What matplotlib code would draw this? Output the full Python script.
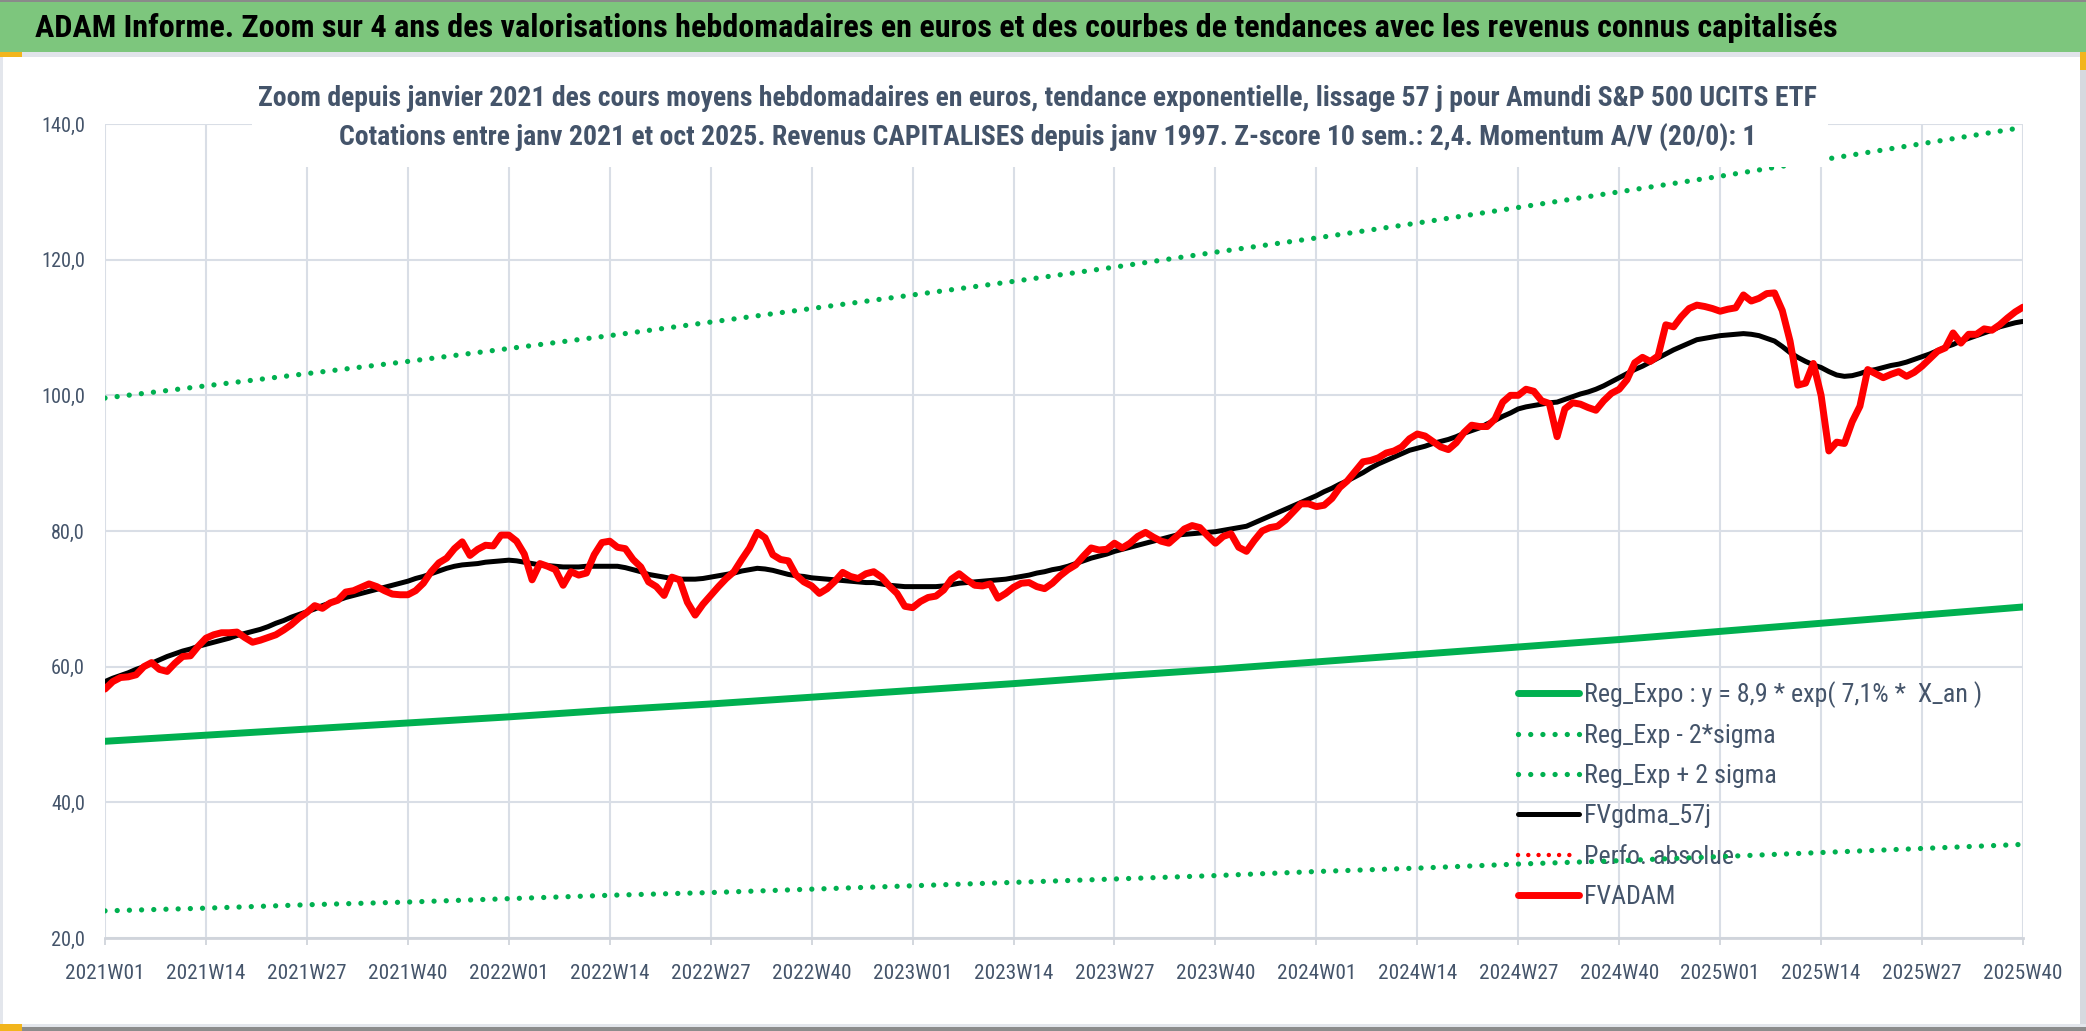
import matplotlib
matplotlib.use("Agg")
import matplotlib.pyplot as plt
import matplotlib.patches as mp
from matplotlib import font_manager as fm
from matplotlib.ticker import FuncFormatter

# police étroite si disponible, sinon Lato (proche de Calibri)
ents = fm.fontManager.ttflist
names = {e.name for e in ents}
FAM, STRETCH = "Lato", "normal"
for n in ("Liberation Sans Narrow", "Arial Narrow", "Roboto Condensed",
          "Open Sans Condensed", "Noto Sans Condensed", "DejaVu Sans Condensed"):
    if n in names:
        FAM = n
        break
else:
    for n in ("Noto Sans", "Open Sans", "Roboto", "DejaVu Sans"):
        if any(e.name == n and "condensed" in str(e.stretch) for e in ents):
            FAM, STRETCH = n, "condensed"
            break
plt.rcParams["font.family"] = [FAM, "DejaVu Sans"]
plt.rcParams["font.stretch"] = STRETCH

SLATE = "#44546A"
GREEN = "#00B050"
GRID = "#D9DEE6"
W, H = 2086, 1031

# catégories hebdomadaires 2021W01 .. 2025W40
weeks = ([f"{y}W{w:02d}" for y in (2021, 2022, 2023, 2024) for w in range(1, 53)]
         + [f"2025W{w:02d}" for w in range(1, 41)])

# FVADAM (cours moyen hebdo, euros)
fvadam = [
    56.7, 57.8, 58.4, 58.5, 58.8, 60.0, 60.6, 59.6, 59.3, 60.5,
    61.5, 61.6, 63.0, 64.2, 64.7, 65.0, 65.0, 65.1, 64.3, 63.6,
    63.9, 64.3, 64.7, 65.4, 66.2, 67.2, 68.0, 69.0, 68.6, 69.4,
    69.8, 71.0, 71.2, 71.7, 72.2, 71.8, 71.2, 70.7, 70.6, 70.6,
    71.2, 72.3, 74.0, 75.3, 76.0, 77.4, 78.4, 76.4, 77.3, 77.9,
    77.8, 79.4, 79.4, 78.5, 76.6, 72.8, 75.2, 74.8, 74.3, 72.0,
    74.0, 73.5, 73.8, 76.5, 78.3, 78.5, 77.6, 77.4, 75.8, 74.7,
    72.5, 71.8, 70.5, 73.2, 72.8, 69.5, 67.6, 69.2, 70.5, 71.8,
    73.0, 74.0, 75.8, 77.5, 79.8, 79.0, 76.5, 75.8, 75.6, 73.5,
    72.5, 71.9, 70.8, 71.5, 72.6, 73.9, 73.3, 73.0, 73.7, 74.0,
    73.2, 71.9, 70.8, 68.9, 68.7, 69.6, 70.2, 70.4, 71.3, 72.9,
    73.7, 72.8, 72.0, 71.9, 72.2, 70.1, 70.8, 71.7, 72.3, 72.4,
    71.8, 71.5, 72.3, 73.4, 74.3, 75.0, 76.3, 77.5, 77.2, 77.3,
    78.2, 77.5, 78.2, 79.2, 79.8, 79.1, 78.5, 78.2, 79.2, 80.3,
    80.8, 80.5, 79.3, 78.2, 79.2, 79.6, 77.6, 77.0, 78.6, 80.0,
    80.5, 80.7, 81.6, 82.8, 84.0, 84.0, 83.6, 83.8, 84.8, 86.4,
    87.4, 88.8, 90.2, 90.4, 90.8, 91.5, 91.8, 92.4, 93.6, 94.3,
    94.0, 93.2, 92.4, 92.0, 93.0, 94.5, 95.6, 95.4, 95.4, 96.5,
    99.0, 100.0, 100.0, 100.9, 100.6, 99.2, 98.8, 93.9, 98.0, 98.9,
    98.7, 98.2, 97.8, 99.2, 100.3, 100.9, 102.3, 104.8, 105.6, 105.0,
    105.8, 110.4, 110.1, 111.6, 112.8, 113.3, 113.1, 112.8, 112.4, 112.7,
    112.9, 114.8, 113.9, 114.3, 115.0, 115.1, 112.5, 108.0, 101.5, 101.8,
    104.7, 100.0, 91.8, 93.1, 92.9, 96.1, 98.4, 103.8, 103.2, 102.6,
    103.1, 103.5, 102.8, 103.4, 104.3, 105.4, 106.5, 107.0, 109.2, 107.7,
    109.0, 109.0, 109.8, 109.6, 110.4, 111.4, 112.3, 113.0,
]

# FVgdma_57j (lissage 57 j)
fvgdma = [
    57.8, 58.3, 58.7, 59.1, 59.6, 60.0, 60.5, 61.0, 61.5, 61.9,
    62.3, 62.6, 63.0, 63.3, 63.6, 63.9, 64.2, 64.6, 64.9, 65.2,
    65.5, 65.9, 66.4, 66.8, 67.3, 67.7, 68.1, 68.5, 69.0, 69.4,
    69.8, 70.2, 70.5, 70.8, 71.1, 71.4, 71.7, 72.0, 72.3, 72.6,
    73.0, 73.3, 73.7, 74.1, 74.5, 74.8, 75.0, 75.1, 75.2, 75.4,
    75.5, 75.6, 75.7, 75.6, 75.4, 75.2, 75.0, 74.9, 74.8, 74.7,
    74.7, 74.7, 74.8, 74.8, 74.8, 74.8, 74.8, 74.6, 74.3, 74.0,
    73.6, 73.4, 73.2, 73.0, 72.9, 72.9, 72.9, 73.0, 73.2, 73.4,
    73.6, 73.8, 74.1, 74.3, 74.5, 74.4, 74.2, 73.9, 73.6, 73.4,
    73.3, 73.1, 73.0, 72.9, 72.8, 72.7, 72.6, 72.5, 72.4, 72.4,
    72.2, 72.0, 71.9, 71.8, 71.8, 71.8, 71.8, 71.8, 71.9, 72.1,
    72.3, 72.4, 72.5, 72.6, 72.7, 72.8, 72.9, 73.1, 73.3, 73.5,
    73.8, 74.0, 74.3, 74.5, 74.8, 75.2, 75.6, 76.0, 76.3, 76.6,
    77.0, 77.3, 77.6, 77.9, 78.2, 78.5, 78.8, 79.1, 79.4, 79.5,
    79.6, 79.7, 79.8, 79.9, 80.1, 80.3, 80.5, 80.7, 81.2, 81.7,
    82.2, 82.7, 83.2, 83.7, 84.2, 84.7, 85.2, 85.8, 86.3, 86.9,
    87.4, 88.0, 88.6, 89.3, 89.9, 90.4, 90.9, 91.4, 91.9, 92.2,
    92.5, 92.9, 93.2, 93.5, 93.9, 94.4, 94.8, 95.2, 95.8, 96.3,
    96.9, 97.4, 98.0, 98.3, 98.5, 98.7, 98.9, 99.0, 99.4, 99.8,
    100.2, 100.5, 100.9, 101.4, 102.0, 102.6, 103.2, 103.8, 104.3, 104.9,
    105.5, 106.1, 106.7, 107.2, 107.7, 108.2, 108.4, 108.6, 108.8, 108.9,
    109.0, 109.1, 109.0, 108.8, 108.4, 108.0, 107.2, 106.3, 105.6, 105.0,
    104.5, 104.1, 103.5, 103.0, 102.8, 102.9, 103.2, 103.6, 103.8, 104.1,
    104.4, 104.6, 104.9, 105.3, 105.7, 106.1, 106.6, 107.1, 107.5, 108.0,
    108.4, 108.8, 109.2, 109.6, 110.1, 110.4, 110.7, 110.9,
]

# courbes de tendance, lues à chaque graduation (toutes les 13 semaines)
tick_pos = list(range(0, len(weeks), 13))
reg_expo = [49.0, 49.9, 50.8, 51.7, 52.6, 53.6, 54.5, 55.5, 56.5, 57.5,
            58.6, 59.6, 60.7, 61.8, 62.9, 64.0, 65.2, 66.4, 67.6, 68.8]
reg_minus = [24.0, 24.4, 24.9, 25.3, 25.8, 26.3, 26.7, 27.2, 27.7, 28.2,
             28.7, 29.2, 29.8, 30.3, 30.9, 31.4, 32.0, 32.6, 33.2, 33.8]
reg_plus = [99.6, 101.4, 103.2, 105.0, 106.9, 108.8, 110.8, 112.8, 114.8, 116.8,
            118.9, 121.1, 123.2, 125.4, 127.7, 130.0, 132.3, 134.7, 137.1, 139.5]
perfo_abs = []

labels = ["Reg_Expo : y = 8,9 * exp( 7,1% *  X_an )", "Reg_Exp - 2*sigma",
          "Reg_Exp + 2 sigma", "FVgdma_57j", "Perfo. absolue", "FVADAM"]
TITLE = ("ADAM Informe. Zoom sur 4 ans des valorisations hebdomadaires en euros et des "
         "courbes de tendances avec les revenus connus capitalisés")
SUB1 = ("Zoom depuis janvier 2021 des cours moyens hebdomadaires en euros, tendance "
        "exponentielle, lissage 57 j pour Amundi S&P 500 UCITS ETF")
SUB2 = ("Cotations entre janv 2021 et oct 2025. Revenus CAPITALISES depuis janv 1997. "
        "Z-score 10 sem.: 2,4. Momentum A/V (20/0): 1")

DOT = (0, (0.01, 2.3))

fig = plt.figure(figsize=(W / 100, H / 100), dpi=100)
fig.patch.set_facecolor("white")
renderer = fig.canvas.get_renderer()


def measure(s, size, weight="normal"):
    t = fig.text(0, 0, s, fontsize=size, fontweight=weight)
    bb = t.get_window_extent(renderer)
    t.remove()
    return bb.width, bb.height


def fit(s, target_px, weight="normal", base=20.0):
    return base * target_px / measure(s, base, weight)[0]


fs_title = fit(TITLE, 1803, "bold")
fs_sub = min(fit(SUB1, 1565, "bold"), fit(SUB2, 1419, "bold"))
fs_xt = fit("2021W01", 79)
fs_yt = fit("140,0", 44)
fs_leg = fit(labels[0], 397)

ax = fig.add_axes([105 / W, 1 - 938 / H, (2023 - 105) / W, (938 - 124) / H])
ax.set_xlim(0, len(weeks) - 1)
ax.set_ylim(20, 140)

ax.plot(tick_pos, reg_expo, color=GREEN, lw=5.0, solid_capstyle="round", label=labels[0], zorder=3)
ax.plot(tick_pos, reg_minus, color=GREEN, lw=3.8, ls=DOT, dash_capstyle="round", label=labels[1], zorder=3)
ax.plot(tick_pos, reg_plus, color=GREEN, lw=3.8, ls=DOT, dash_capstyle="round", label=labels[2], zorder=3)
ax.plot(range(len(fvgdma)), fvgdma, color="black", lw=3.6, solid_capstyle="round", label=labels[3], zorder=4)
ax.plot(perfo_abs, perfo_abs, color="red", lw=3.2, ls=DOT, dash_capstyle="round", label=labels[4], zorder=4)
ax.plot(range(len(fvadam)), fvadam, color="red", lw=5.0, solid_capstyle="round",
        solid_joinstyle="round", label=labels[5], zorder=5)

# axes / grille
ax.set_xticks(tick_pos)
ax.set_xticklabels([weeks[i] for i in tick_pos])
ax.set_yticks(range(20, 141, 20))
ax.yaxis.set_major_formatter(FuncFormatter(lambda v, p: f"{v:.1f}".replace(".", ",")))
ax.grid(True, color=GRID, lw=1.5, zorder=0)
ax.set_axisbelow(True)
for s in ("top", "right", "left"):
    ax.spines[s].set_visible(False)
ax.spines["bottom"].set_color("#D0D4DB")
ax.spines["bottom"].set_linewidth(2.0)
hx = measure("2021W01", fs_xt)[1]
ax.tick_params(axis="x", length=5, width=1.3, color="#D0D4DB",
               pad=max(2.0, (29 - hx / 2) * 0.72), labelsize=fs_xt, labelcolor=SLATE)
ax.tick_params(axis="y", length=0, pad=14.4, labelsize=fs_yt, labelcolor=SLATE)

# légende sans cadre
fs_px = fs_leg * 100 / 72
hl = measure("Reg_Expo", fs_leg)[1]
leg = ax.legend(loc="upper left", bbox_to_anchor=(1518 / W, 1 - (693 - hl / 2) / H),
                bbox_transform=fig.transFigure, frameon=False, fontsize=fs_leg,
                handlelength=61 / fs_px, handletextpad=5 / fs_px,
                labelspacing=max(0.0, (40.2 - hl) / fs_px),
                borderpad=0, borderaxespad=0, labelcolor=SLATE)
leg.set_zorder(1)

# bandeau titre
fig.add_artist(mp.Rectangle((0, 1 - 52 / H), 1, 52 / H, transform=fig.transFigure,
                            facecolor="#7DC67D", edgecolor="none", zorder=1))
fig.add_artist(mp.Rectangle((0, 1 - 2 / H), 1, 2 / H, transform=fig.transFigure,
                            facecolor="#8A8A8A", edgecolor="none", zorder=2))
fig.add_artist(mp.Rectangle((0, 1 - 57 / H), 1, 5 / H, transform=fig.transFigure,
                            facecolor="#E1E4EA", edgecolor="none", zorder=1))
fig.add_artist(mp.Rectangle((0, 1 - 57 / H), 22 / W, 5 / H, transform=fig.transFigure,
                            facecolor="#F2B51C", edgecolor="none", zorder=2))
fig.text(35 / W, 1 - 28 / H, TITLE, ha="left", va="center", fontsize=fs_title,
         fontweight="bold", color="black", zorder=3)

# titre du graphique (cache la grille derrière lui)
fig.add_artist(mp.Rectangle((252 / W, 1 - 167 / H), (1828 - 252) / W, 100 / H,
                            transform=fig.transFigure, facecolor="white",
                            edgecolor="none", zorder=5))
fig.text(1037 / W, 1 - 99 / H, SUB1, ha="center", va="center", fontsize=fs_sub,
         fontweight="bold", color=SLATE, zorder=6)
fig.text(1048 / W, 1 - 137 / H, SUB2, ha="center", va="center", fontsize=fs_sub,
         fontweight="bold", color=SLATE, zorder=6)

# bords de la zone
fig.add_artist(mp.Rectangle((0, 0), 3 / W, 1 - 57 / H, transform=fig.transFigure,
                            facecolor="#E3E6EC", edgecolor="none", zorder=2))
fig.add_artist(mp.Rectangle((2080 / W, 0), 6 / W, 1 - 57 / H, transform=fig.transFigure,
                            facecolor="#D6D9DF", edgecolor="none", zorder=2))
fig.add_artist(mp.Rectangle((2080 / W, 1 - 70 / H), 6 / W, 18 / H, transform=fig.transFigure,
                            facecolor="#F2B51C", edgecolor="none", zorder=3))
fig.add_artist(mp.Rectangle((0, 0), 1, 4 / H, transform=fig.transFigure,
                            facecolor="#8C8C8C", edgecolor="none", zorder=2))
fig.add_artist(mp.Rectangle((0, 4 / H), 1, 3 / H, transform=fig.transFigure,
                            facecolor="#E3E6EC", edgecolor="none", zorder=2))
fig.add_artist(mp.Rectangle((0, 0), 22 / W, 7 / H, transform=fig.transFigure,
                            facecolor="#F2B51C", edgecolor="none", zorder=3))

fig.savefig("out.png", dpi=100, facecolor="white")
